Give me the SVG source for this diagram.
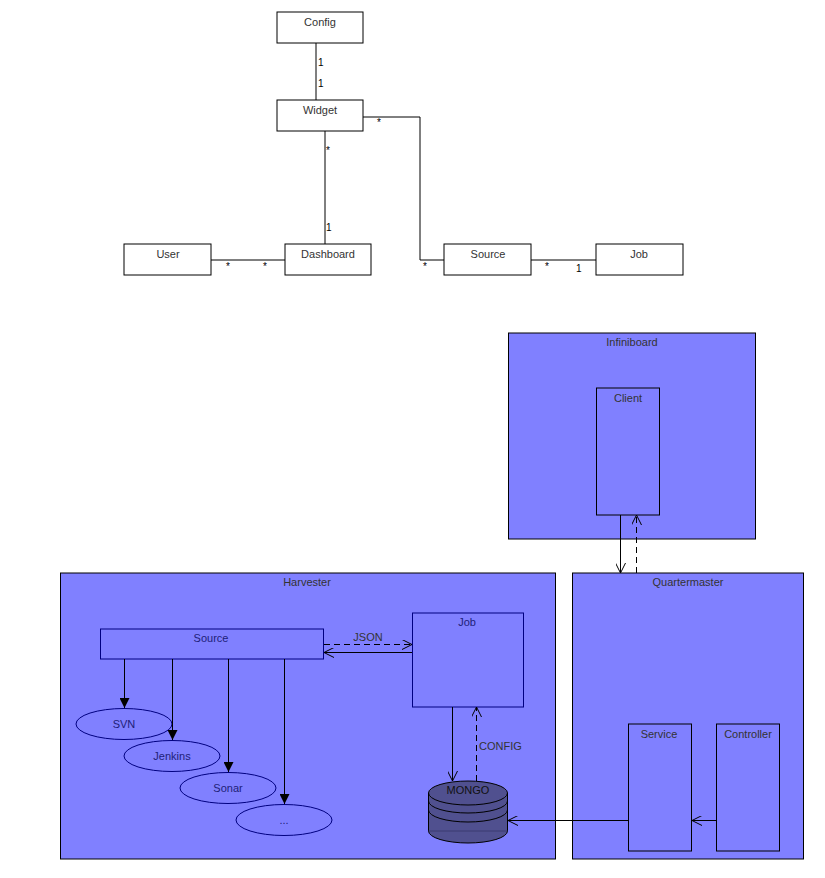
<svg xmlns="http://www.w3.org/2000/svg" width="825" height="878" viewBox="0 0 825 878">
  <style>
    text { font-family: "Liberation Sans", Arial, sans-serif; font-size: 11px; fill: #333; text-anchor: middle; }
    .uml { fill: #ffffff; stroke: #000; stroke-width: 1; }
    .pkg { fill: #8080ff; stroke: #000; stroke-width: 1; }
    .navy { fill: #8080ff; stroke: #000080; stroke-width: 1; }
    .navytxt { fill: #1e1e78; }
    .dark { fill: #111; }
    .ln { fill: none; stroke: #000; stroke-width: 1; }
    .dash { stroke-dasharray: 6 4; }
    .mult { text-anchor: start; font-size: 10px; fill: #000; }
  </style>
  <defs>
    <marker id="open" viewBox="0 0 10 10" refX="10" refY="5" markerWidth="10" markerHeight="10" markerUnits="userSpaceOnUse" orient="auto">
      <path d="M0,0 L10,5 L0,10" fill="none" stroke="#000" stroke-width="1"/>
    </marker>
    <marker id="solid" viewBox="0 0 10 10" refX="10" refY="5" markerWidth="10" markerHeight="10" markerUnits="userSpaceOnUse" orient="auto">
      <path d="M0,0 L10,5 L0,10 z" fill="#000"/>
    </marker>
  </defs>

  <!-- Class model -->
  <g id="connectors-model">
    <path class="ln" d="M316,43 V100"/>
    <path class="ln" d="M363,117 H420 V260 H444"/>
    <path class="ln" d="M325,131 V244"/>
    <path class="ln" d="M211,260 H285"/>
    <path class="ln" d="M531,260 H596"/>
    <text class="mult" x="318" y="66">1</text>
    <text class="mult" x="318" y="87">1</text>
    <text class="mult" x="377" y="126">*</text>
    <text class="mult" x="326" y="154">*</text>
    <text class="mult" x="326" y="231">1</text>
    <text class="mult" x="226" y="270">*</text>
    <text class="mult" x="263" y="270">*</text>
    <text class="mult" x="423" y="270">*</text>
    <text class="mult" x="545" y="270">*</text>
    <text class="mult" x="576" y="272">1</text>
  </g>
  <g id="config"><rect class="uml" x="277" y="12" width="86" height="31"/><text x="320" y="26">Config</text></g>
  <g id="widget"><rect class="uml" x="277" y="100" width="86" height="31"/><text x="320" y="114">Widget</text></g>
  <g id="user"><rect class="uml" x="124" y="244" width="87" height="31"/><text x="168" y="258">User</text></g>
  <g id="dashboard"><rect class="uml" x="285" y="244" width="86" height="31"/><text x="328" y="258">Dashboard</text></g>
  <g id="source-class"><rect class="uml" x="444" y="244" width="87" height="31"/><text x="488" y="258">Source</text></g>
  <g id="job-class"><rect class="uml" x="596" y="244" width="87" height="31"/><text x="639" y="258">Job</text></g>

  <!-- Deployment -->
  <g id="infiniboard">
    <rect class="pkg" x="508.5" y="333" width="247" height="206"/>
    <text x="632" y="346">Infiniboard</text>
  </g>
  <g id="client">
    <rect class="pkg" x="596.5" y="388" width="63" height="127"/>
    <text x="628" y="402">Client</text>
  </g>
  <g id="harvester">
    <rect class="pkg" x="60.5" y="573" width="495" height="286"/>
    <text x="307" y="586">Harvester</text>
  </g>
  <g id="quartermaster">
    <rect class="pkg" x="572.5" y="573" width="231" height="286"/>
    <text x="688" y="586">Quartermaster</text>
  </g>
  <g id="source">
    <rect class="navy" x="100.5" y="629" width="223" height="30"/>
    <text class="navytxt" x="211" y="642">Source</text>
  </g>
  <g id="job">
    <rect class="navy" x="412.5" y="613" width="111" height="94"/>
    <text class="navytxt" x="467" y="626">Job</text>
  </g>
  <g id="svn"><ellipse class="navy" cx="124" cy="724" rx="48" ry="15.5"/><text class="navytxt" x="124" y="728">SVN</text></g>
  <g id="jenkins"><ellipse class="navy" cx="172" cy="756" rx="48" ry="15.5"/><text class="navytxt" x="172" y="760">Jenkins</text></g>
  <g id="sonar"><ellipse class="navy" cx="228" cy="788" rx="48" ry="15.5"/><text class="navytxt" x="228" y="792">Sonar</text></g>
  <g id="more"><ellipse class="navy" cx="284" cy="820" rx="48" ry="15.5"/><text class="navytxt" x="284" y="824">...</text></g>
  <g id="mongo">
    <path d="M428.5,793 A39.5,12 0 0 1 507.5,793 V831 A39.5,12 0 0 1 428.5,831 Z" fill="#50508f" stroke="#000" stroke-width="1"/>
    <path class="ln" d="M428.5,793 A39.5,12 0 0 0 507.5,793"/>
    <path class="ln" d="M428.5,801 A39.5,12 0 0 0 507.5,801"/>
    <path class="ln" d="M428.5,810 A39.5,12 0 0 0 507.5,810"/>
    <path d="M428.5,831 H507.5" stroke="#3a3a70" stroke-width="1" fill="none"/>
    <text class="dark" x="468" y="794">MONGO</text>
  </g>
  <g id="service">
    <rect class="pkg" x="628.5" y="724" width="63" height="127"/>
    <text x="659" y="738">Service</text>
  </g>
  <g id="controller">
    <rect class="pkg" x="716.5" y="724" width="63" height="127"/>
    <text x="748" y="738">Controller</text>
  </g>

  <g id="connectors-deployment">
    <path class="ln" d="M620.5,515 V573" marker-end="url(#open)"/>
    <path class="ln dash" d="M636.5,573 V515" marker-end="url(#open)"/>
    <path class="ln dash" d="M324,644.5 H412" marker-end="url(#open)"/>
    <path class="ln" d="M412,652.5 H324" marker-end="url(#open)"/>
    <text x="368" y="641">JSON</text>
    <path class="ln" d="M452.5,707 V781" marker-end="url(#open)"/>
    <path class="ln dash" d="M476.5,781 V707" marker-end="url(#open)"/>
    <text x="479" y="750" style="text-anchor:start">CONFIG</text>
    <path class="ln" d="M628,820.5 H508" marker-end="url(#open)"/>
    <path class="ln" d="M716,820.5 H692" marker-end="url(#open)"/>
    <path class="ln" d="M124.5,659 V708" marker-end="url(#solid)"/>
    <path class="ln" d="M172.5,659 V740" marker-end="url(#solid)"/>
    <path class="ln" d="M228.5,659 V772" marker-end="url(#solid)"/>
    <path class="ln" d="M284.5,659 V804" marker-end="url(#solid)"/>
  </g>
</svg>
